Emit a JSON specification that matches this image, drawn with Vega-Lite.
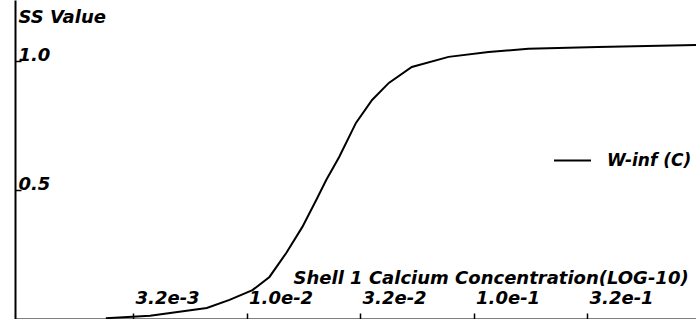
{
  "$schema": "https://vega.github.io/schema/vega-lite/v6.json",
  "width": 681,
  "height": 319,
  "autosize": {"type": "none"},
  "padding": {"left": 15, "top": 0, "right": 0, "bottom": 0},
  "background": "white",
  "config": {
    "view": {"stroke": null},
    "font": "DejaVu Sans"
  },
  "data": {
    "values": [
      {"conc": 0.0024, "ss": 0.003, "series": "W-inf (C)"},
      {"conc": 0.003758, "ss": 0.013, "series": "W-inf (C)"},
      {"conc": 0.006683, "ss": 0.043, "series": "W-inf (C)"},
      {"conc": 0.008414, "ss": 0.074, "series": "W-inf (C)"},
      {"conc": 0.01062, "ss": 0.112, "series": "W-inf (C)"},
      {"conc": 0.01262, "ss": 0.163, "series": "W-inf (C)"},
      {"conc": 0.01496, "ss": 0.256, "series": "W-inf (C)"},
      {"conc": 0.01762, "ss": 0.357, "series": "W-inf (C)"},
      {"conc": 0.02028, "ss": 0.461, "series": "W-inf (C)"},
      {"conc": 0.02244, "ss": 0.539, "series": "W-inf (C)"},
      {"conc": 0.02559, "ss": 0.628, "series": "W-inf (C)"},
      {"conc": 0.03034, "ss": 0.76, "series": "W-inf (C)"},
      {"conc": 0.03573, "ss": 0.849, "series": "W-inf (C)"},
      {"conc": 0.04236, "ss": 0.915, "series": "W-inf (C)"},
      {"conc": 0.05346, "ss": 0.977, "series": "W-inf (C)"},
      {"conc": 0.07762, "ss": 1.016, "series": "W-inf (C)"},
      {"conc": 0.1164, "ss": 1.035, "series": "W-inf (C)"},
      {"conc": 0.1742, "ss": 1.047, "series": "W-inf (C)"},
      {"conc": 0.3532, "ss": 1.054, "series": "W-inf (C)"},
      {"conc": 0.955, "ss": 1.062, "series": "W-inf (C)"}
    ]
  },
  "mark": {"type": "line", "strokeWidth": 2, "clip": true},
  "encoding": {
    "x": {
      "field": "conc",
      "type": "quantitative",
      "scale": {"type": "log", "domain": [0.000955, 0.955], "nice": false},
      "axis": {
        "values": [0.0031623, 0.01, 0.031623, 0.1, 0.31623],
        "format": ".1e",
        "grid": false,
        "domainColor": "black",
        "domainWidth": 2,
        "tickColor": "black",
        "tickWidth": 1.5,
        "tickSize": -6,
        "labelPadding": -10,
        "labelAlign": "left",
        "labelBaseline": "alphabetic",
        "labelFont": "DejaVu Sans",
        "labelFontSize": 18,
        "labelFontStyle": "italic",
        "labelFontWeight": "bold",
        "labelColor": "black",
        "labelOffset": 2,
        "labelFlush": false,
        "labelOverlap": false,
        "title": "Shell 1 Calcium Concentration(LOG-10)",
        "titleX": 278,
        "titleY": -36,
        "titleAlign": "left",
        "titleBaseline": "alphabetic",
        "titleFont": "DejaVu Sans",
        "titleFontSize": 18,
        "titleFontStyle": "italic",
        "titleFontWeight": "bold",
        "titleColor": "black"
      }
    },
    "y": {
      "field": "ss",
      "type": "quantitative",
      "scale": {"domain": [0, 1.2364], "nice": false, "zero": false},
      "axis": {
        "values": [0.5, 1.0],
        "format": ".1f",
        "grid": false,
        "domainColor": "black",
        "domainWidth": 2,
        "tickColor": "black",
        "tickWidth": 1.5,
        "tickSize": -6,
        "labelPadding": 3,
        "labelAlign": "left",
        "labelBaseline": "alphabetic",
        "labelFont": "DejaVu Sans",
        "labelFontSize": 18,
        "labelFontStyle": "italic",
        "labelFontWeight": "bold",
        "labelColor": "black",
        "labelFlush": false,
        "labelOverlap": false,
        "title": "SS Value",
        "titleAngle": 0,
        "titleX": 3,
        "titleY": 22,
        "titleAlign": "left",
        "titleBaseline": "alphabetic",
        "titleFont": "DejaVu Sans",
        "titleFontSize": 18,
        "titleFontStyle": "italic",
        "titleFontWeight": "bold",
        "titleColor": "black"
      }
    },
    "color": {
      "field": "series",
      "type": "nominal",
      "scale": {"range": ["black"]},
      "legend": {
        "orient": "none",
        "legendX": 538,
        "legendY": 141,
        "title": null,
        "symbolType": "stroke",
        "symbolSize": 1369,
        "symbolStrokeWidth": 2,
        "labelOffset": 15,
        "labelFont": "DejaVu Sans",
        "labelFontSize": 17,
        "labelFontStyle": "italic",
        "labelFontWeight": "bold",
        "labelColor": "black"
      }
    }
  }
}
